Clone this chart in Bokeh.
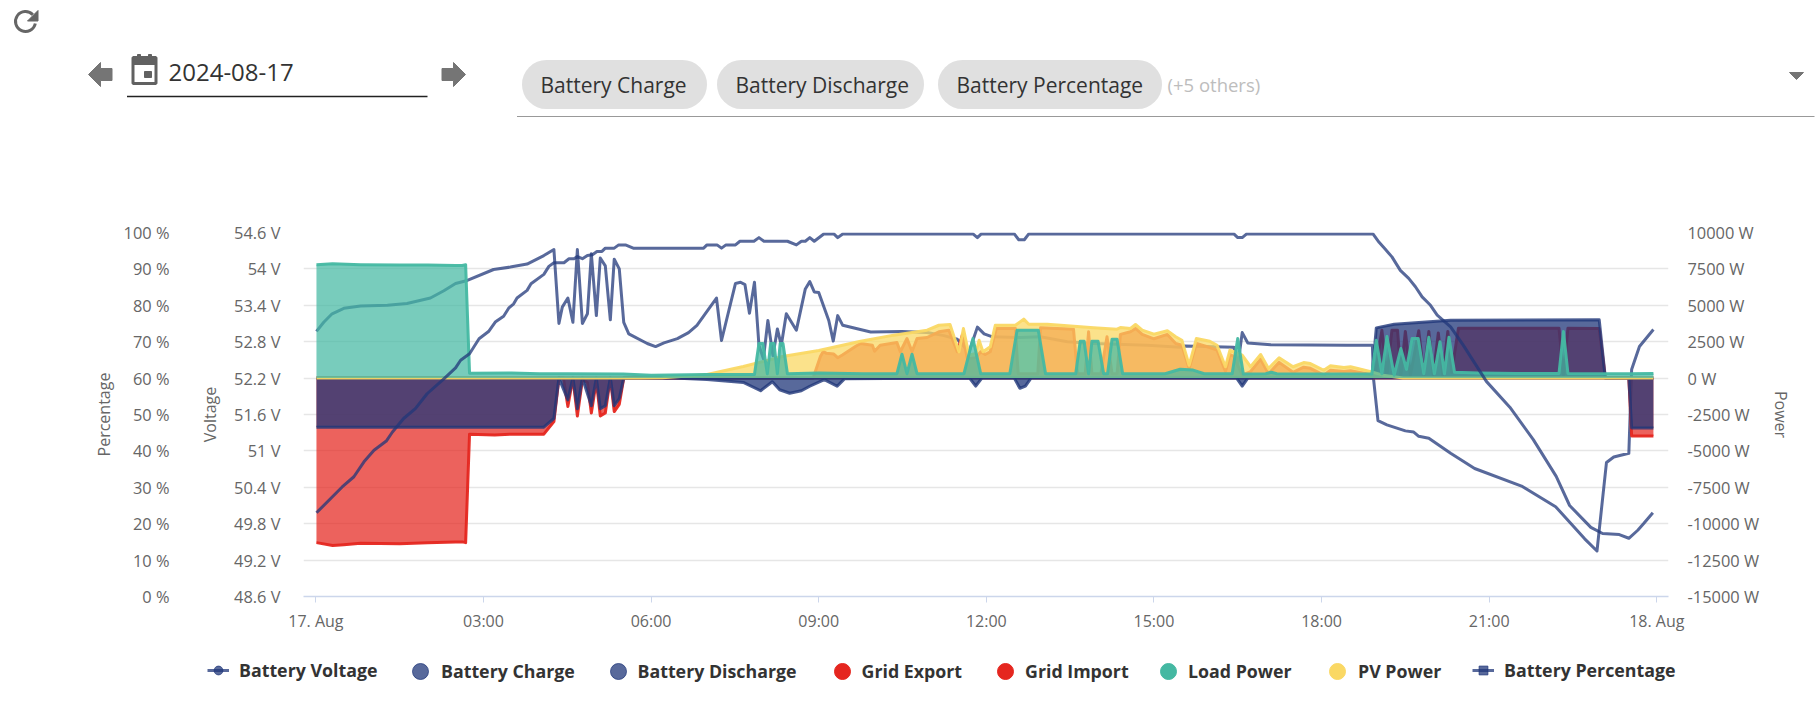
from bokeh.plotting import figure
from bokeh.models import (Range1d, LinearAxis, FixedTicker, CustomJSTickFormatter,
                          Legend, LegendItem)
from bokeh.core.properties import value
from bokeh.embed import file_html
from bokeh.resources import INLINE

FONT = "Open Sans"
date_label = "2024-08-17"
chips = ["Battery Charge", "Battery Discharge", "Battery Percentage"]
others_label = "(+5 others)"

hour_ticks = [0, 3, 6, 9, 12, 15, 18, 21, 24]
hour_labels = ["17. Aug", "03:00", "06:00", "09:00", "12:00", "15:00", "18:00", "21:00", "18. Aug"]
pct_ticks = [0, 10, 20, 30, 40, 50, 60, 70, 80, 90, 100]
volt_ticks = [48.6, 49.2, 49.8, 50.4, 51, 51.6, 52.2, 52.8, 53.4, 54, 54.6]
power_ticks = [-15000, -12500, -10000, -7500, -5000, -2500, 0, 2500, 5000, 7500, 10000]

volt_h = [0.01,0.14,0.29,0.5,0.8,1.28,1.63,2.05,2.29,2.5,2.71,3.18,3.48,3.78,4.08,4.26,4.35,4.41,4.51,4.6,4.68,
          4.77,4.86,4.93,5.02,5.09,5.18,5.27,5.34,5.43,5.51,5.6,5.93,6.08,6.23,6.47,6.67,6.82,7.17,7.26,7.51,7.6,
          7.68,7.76,7.85,7.93,8.01,8.09,8.18,8.26,8.33,8.42,8.6,8.76,8.84,8.92,9.0,9.18,9.26,9.34,9.43,9.93,10.49,
          10.94,11.24,11.48,11.69,11.84,11.96,12.11,12.61,12.97,13.45,13.92,14.88,15.47,15.56,16.43,16.5,16.58,
          16.68,17.09,18.46,18.91,18.93,19.01,19.17,19.5,19.65,19.74,19.92,20.31,20.74,21.58,22.19,22.71,22.93,
          23.1,23.23,23.5,23.55,23.69,23.94]
volt_v = [52.97,53.12,53.26,53.35,53.39,53.4,53.43,53.52,53.64,53.76,53.81,53.99,54.03,54.08,54.22,54.32,53.1,53.37,
          53.52,53.12,54.32,53.1,53.26,54.25,53.23,54.18,54.05,53.16,54.16,54.0,53.12,52.93,52.77,52.72,52.78,52.85,
          52.95,53.07,53.52,52.82,53.76,53.78,53.74,53.27,53.78,52.74,52.52,53.15,52.57,53.01,52.74,53.26,52.99,53.67,
          53.79,53.62,53.61,53.15,52.81,53.23,53.07,52.96,52.97,52.95,52.9,52.84,52.63,53.04,52.93,52.88,52.87,52.88,
          52.8,52.77,52.74,52.71,52.73,52.71,52.4,52.95,52.78,52.75,52.74,52.74,52.19,51.5,51.43,51.33,51.31,51.24,
          51.21,50.96,50.71,50.42,50.08,49.55,49.35,50.81,50.9,50.96,52.34,52.72,53.0]

pct_h = [0.01,0.47,0.68,0.86,1.04,1.26,1.37,1.57,1.78,1.99,2.29,2.5,2.59,2.75,2.92,3.09,3.21,3.36,3.45,3.54,3.6,3.78,
         3.85,4.08,4.17,4.26,4.44,4.53,4.62,4.68,4.77,4.86,4.95,5.03,5.12,5.18,5.34,5.42,5.54,5.68,6.94,7.0,7.18,7.26,
         7.34,7.51,7.59,7.84,7.93,8.02,8.44,8.6,8.69,8.76,8.84,8.92,9.09,9.27,9.34,9.43,11.76,11.84,11.91,12.5,12.58,
         12.68,12.76,16.43,16.5,16.58,16.66,18.92,19.03,19.13,19.26,19.41,19.56,19.68,19.8,19.95,20.07,20.31,20.53,
         20.95,21.37,21.79,22.2,22.44,22.82,23.03,23.33,23.5,23.66,23.77,23.93]
pct_v = [23,30.1,32.9,37,40.2,42.7,45.2,48.9,51.6,55.7,59.8,62.8,64.9,66.7,70.8,72.8,75.4,77,79.2,80.4,82,84.1,85.9,
         88.5,90.7,91.7,91.7,92.8,92.8,93.4,92.8,93.7,93.9,94.8,94.8,95.7,95.7,96.6,96.6,95.7,95.7,96.6,96.6,95.7,96.6,
         96.6,97.6,97.6,98.6,97.6,97.6,96.6,97.6,97.6,98.6,97.6,99.6,99.6,98.6,99.6,99.6,98.6,99.6,99.6,98,98,99.6,99.6,
         98.6,98.6,99.6,99.6,97.3,95.6,93.3,89.6,87.4,85.1,82.3,80,77.3,74.1,69.2,59.1,52,43.1,33,25,19,17.3,17,16,18.2,
         20.1,23]

charge_h = [0.01,4.08,4.26,4.35,4.51,4.6,4.68,4.77,4.93,5.02,5.09,5.18,5.27,5.34,5.43,5.51,6.4,7.0,7.65,7.96,8.17,8.3,
            8.48,8.69,8.84,9.1,9.33,9.46,11.7,11.81,11.92,12.5,12.6,12.7,12.8,16.48,16.58,16.68,23.5,23.55,23.94]
charge_w = [-3370,-3370,-2775,0,-1500,0,-2100,0,-1900,0,-2100,-1900,0,-1900,-1400,0,0,-100,-300,-870,-250,-800,-1040,
            -870,-560,-100,-560,-50,0,-550,0,0,-700,-550,0,0,-550,0,0,-3430,-3430]

discharge_h = [0.01,18.9,18.98,19.3,20.31,22.97,23.08,23.94]
discharge_w = [0,0,3450,3700,3980,4000,0,0]

export_h = [0.01,8.9,9.03,9.08,9.14,9.27,9.34,9.43,9.67,9.75,9.96,10.0,10.1,10.4,10.46,10.58,10.67,10.76,10.94,11.15,
            11.33,11.48,11.57,11.66,11.81,11.9,11.98,12.07,12.18,12.52,12.57,12.92,12.97,13.56,13.63,13.77,13.83,13.89,
            14.05,14.16,14.25,14.34,14.4,14.58,14.67,14.79,15.0,15.24,15.39,15.5,15.63,15.76,16.0,16.13,16.28,16.36,
            16.43,16.58,16.73,16.91,17.05,17.24,17.49,17.68,17.8,18.04,18.16,18.4,18.52,18.9,18.95,19.08,19.17,19.26,
            19.36,19.42,19.5,19.59,19.74,19.83,19.92,20.0,20.09,20.17,20.26,20.33,20.45,22.25,22.33,22.41,22.97,23.08,23.94]
export_w = [0,0,1480,1830,1700,1650,1400,1600,2200,2380,2260,1850,2260,2450,1810,2720,1830,2720,2790,3180,3290,1810,
            2950,1350,1400,1810,1620,1810,3410,3410,300,300,3450,3360,300,300,3180,300,300,2840,300,300,3000,3180,3410,
            3000,2700,3000,2380,2260,660,2380,2100,1920,450,1620,1500,200,450,1300,300,1080,400,750,670,200,540,450,500,
            230,100,3290,200,3290,3290,200,3200,200,3250,200,3200,200,3100,200,3200,400,3430,3430,200,3430,3400,0,0]

import_h = [0.01,0.3,0.5,0.8,1.5,2.0,2.5,2.62,2.68,2.75,3.2,3.5,4.08,4.26,4.35,4.43,4.51,4.6,4.68,4.77,4.86,4.93,5.02,
            5.09,5.18,5.27,5.34,5.43,5.51,23.5,23.55,23.94]
import_w = [-11300,-11500,-11450,-11350,-11380,-11300,-11250,-11250,-11300,-3850,-3900,-3850,-3850,-2990,0,0,-1950,0,
            -2600,-100,-300,-2400,-200,-2600,-2400,0,-2300,-1800,0,0,-3980,-3980]

load_h = [0.01,0.3,0.8,1.5,2.0,2.5,2.62,2.68,2.75,3.5,4.0,4.5,5.5,6.0,7.0,7.85,7.93,8.0,8.08,8.14,8.2,8.26,8.31,8.36,
          8.44,9.0,9.8,10.4,10.49,10.58,10.67,10.76,11.6,11.76,11.9,12.42,12.55,12.93,13.06,13.6,13.68,13.75,13.83,13.89,
          14.0,14.1,14.17,14.25,14.34,14.44,15.2,15.47,15.7,15.9,16.4,16.5,16.6,17.0,17.1,17.2,18.9,18.98,19.08,19.17,
          19.3,19.42,19.52,19.62,19.73,19.83,19.92,20.02,20.12,20.2,20.28,20.38,20.8,21.5,22.25,22.33,22.41,23.5,23.94]
load_w = [7780,7850,7790,7760,7760,7740,7730,7790,340,350,300,300,280,200,250,250,2380,2380,300,2380,2380,300,2380,2380,
          300,350,300,300,1640,300,1640,300,300,2720,300,300,3290,3290,300,300,2530,2530,300,2530,2530,300,300,2670,2670,
          300,300,610,550,300,300,2720,280,300,400,300,280,2600,300,2850,200,2030,600,2720,2720,300,2800,300,2500,300,
          2800,400,350,320,320,3200,320,300,320]

pv_h = [0.01,5.8,6.2,6.6,7.0,7.65,8.35,9.0,9.75,10.34,10.94,11.15,11.35,11.51,11.59,11.69,11.81,11.87,11.94,12.07,12.16,
        12.52,12.67,12.76,13.09,13.45,13.92,14.34,14.4,14.58,14.67,14.79,15.0,15.24,15.39,15.5,15.63,15.76,16.0,16.13,
        16.28,16.36,16.43,16.58,16.73,16.91,17.05,17.24,17.49,17.68,17.8,18.04,18.16,18.4,18.52,18.9,19.1,19.46,23.94]
pv_w = [0,0,30,120,250,800,1480,1900,2530,2950,3290,3630,3680,1810,3410,1570,1690,2600,1810,2150,3630,3630,4050,3700,
        3700,3590,3450,3360,3475,3410,3680,3290,3020,3250,2840,2600,885,2720,2530,2260,780,1920,1810,1570,780,1620,660,
        1400,780,1070,1000,540,845,730,780,430,200,0,0]

NAVY, RED, TEAL, YELLOW = "#203779", "#e5261f", "#44b8a2", "#fad864"
GREY = "#666666"

# ---------- controls above the chart, drawn in page pixels
h = figure(width=1820, height=128, x_range=Range1d(0, 1820), y_range=Range1d(128, 0),
           x_axis_location=None, y_axis_location=None, toolbar_location=None,
           output_backend="svg", min_border=0, outline_line_color=None)
h.grid.visible = False
h.arc(x=[25], y=[21], radius=[10], start_angle=0.75, end_angle=-0.2, direction="anticlock",
      line_color="#666666", line_width=3)
h.patch([37.5, 37.5, 27], [10, 20.5, 20.5], color="#666666")
h.patch([88, 100, 100, 111.5, 111.5, 100, 100], [74, 62, 68, 68, 80, 80, 86], color="#757575")
h.patch([465, 453, 453, 441.5, 441.5, 453, 453], [74, 62, 68, 68, 80, 80, 86], color="#757575")
h.quad(left=[132.5], right=[155.5], top=[57], bottom=[83], fill_color="white", line_color="#616161", line_width=3)
h.quad(left=[132.5], right=[155.5], top=[57], bottom=[64], color="#616161")
h.quad(left=[137, 148], right=[140, 151], top=[54, 54], bottom=[57, 57], color="#616161")
h.quad(left=[144], right=[151], top=[71], bottom=[77], color="#616161")
h.text(x=[168], y=[72], text=[date_label], text_font=value(FONT), text_font_size="24px",
       text_color="#333333", text_baseline="middle")
h.segment(x0=[126.5], y0=[96], x1=[427], y1=[96], line_color="#222222", line_width=1.3)
h.segment(x0=[546, 741, 962], y0=[84] * 3, x1=[682, 899, 1137], y1=[84] * 3, line_color="#e0e0e0",
          line_width=49, line_cap="round")
h.text(x=[540, 735, 956], y=[84] * 3, text=chips, text_font=value(FONT), text_font_size="21px",
       text_color="#333333", text_baseline="middle")
h.text(x=[1167], y=[84], text=[others_label], text_font=value(FONT), text_font_size="18.5px",
       text_color="#bdbdbd", text_baseline="middle")
h.patch([1789, 1803, 1796], [72, 72, 79], color="#757575")
h.segment(x0=[516.5], y0=[116], x1=[1814], y1=[116], line_color="#999999", line_width=1.2)

# ---------- chart
p = figure(width=1820, height=512, x_range=Range1d(-0.222, 24.21), y_range=Range1d(48.6, 54.6),
           toolbar_location=None, output_backend="svg", min_border_left=303, min_border_right=152,
           min_border_top=104, min_border_bottom=44, outline_line_color=None)
p.extra_y_ranges = {"pct": Range1d(0, 100), "power": Range1d(-15000, 10000)}
p.xgrid.visible = False
p.ygrid.grid_line_color = "#e6e6e6"
p.ygrid.grid_line_width = 1.5


def style(ax, unit, ticks):
    ax.ticker = FixedTicker(ticks=ticks)
    ax.formatter = CustomJSTickFormatter(code=f"return tick + ' {unit}'")
    ax.axis_line_color = None
    ax.major_tick_line_color = None
    ax.minor_tick_line_color = None
    ax.major_label_text_font = FONT
    ax.major_label_text_font_size = "16.4px"
    ax.major_label_text_color = GREY
    ax.axis_label_text_font = FONT
    ax.axis_label_text_font_size = "16px"
    ax.axis_label_text_font_style = "normal"
    ax.axis_label_text_color = GREY


va = p.yaxis[0]
va.axis_label = "Voltage"
style(va, "V", volt_ticks)
va.major_label_standoff = 17
va.axis_label_standoff = 10

pa = LinearAxis(y_range_name="pct", axis_label="Percentage")
style(pa, "%", pct_ticks)
pa.major_label_standoff = 21
pa.axis_label_standoff = 6
p.add_layout(pa, "left")

wa = LinearAxis(y_range_name="power", axis_label="Power")
style(wa, "W", power_ticks)
wa.major_label_standoff = 13
wa.axis_label_standoff = 8
p.add_layout(wa, "right")

xa = p.xaxis[0]
xa.ticker = FixedTicker(ticks=hour_ticks)
xa.major_label_overrides = dict(zip(hour_ticks, hour_labels))
xa.axis_line_color = "#ccd6eb"
xa.axis_line_width = 1.5
xa.major_tick_line_color = "#ccd6eb"
xa.major_tick_in = 0
xa.major_tick_out = 6
xa.minor_tick_line_color = None
xa.major_label_text_font = FONT
xa.major_label_text_font_size = "16px"
xa.major_label_text_color = GREY
xa.major_label_standoff = 7


def area(hours, watts, color, alpha=0.75, stroke_alpha=0.95):
    p.varea(x=hours, y1=watts, y2=[0] * len(hours), fill_color=color, fill_alpha=alpha, y_range_name="power")
    return p.line(hours, watts, line_color=color, line_width=3, line_alpha=stroke_alpha,
                  line_join="round", y_range_name="power")


line_kw = dict(line_color=NAVY, line_alpha=0.75, line_width=3, line_join="round")
p.line(volt_h, volt_v, **line_kw)
area(export_h, export_w, RED, alpha=0.72)
area(import_h, import_w, RED, alpha=0.72)
area(charge_h, charge_w, NAVY, stroke_alpha=0.8)
area(discharge_h, discharge_w, NAVY, stroke_alpha=0.8)
area(pv_h, pv_w, YELLOW)
area(load_h, load_w, TEAL, alpha=0.72)
p.line(pct_h, pct_v, y_range_name="pct", **line_kw)

# ---------- legend strip below the chart, in page pixels
f = figure(width=1820, height=62, x_range=Range1d(0, 1820), y_range=Range1d(702, 640),
           x_axis_location=None, y_axis_location=None, toolbar_location=None,
           output_backend="svg", min_border=0, outline_line_color=None)
f.grid.visible = False


def swatch(color, alpha=1.0, marker="circle"):
    # zero-size marker outside the visible range: it only supplies the legend symbol
    return f.scatter([-50], [650], size=0, marker=marker, fill_color=color, fill_alpha=alpha,
                     line_color=color, line_alpha=alpha)


def stroke():
    return f.line([-50, -40], [650, 650], line_color=NAVY, line_alpha=0.75, line_width=3)


legend_rows = [
    ("Battery Voltage", [stroke(), swatch(NAVY, 0.75)], 207, 22, 239),
    ("Battery Charge", [swatch(NAVY, 0.75)], 400, 40, 441),
    ("Battery Discharge", [swatch(NAVY, 0.75)], 597.5, 40, 638.4),
    ("Grid Export", [swatch(RED)], 821.5, 40, 862.4),
    ("Grid Import", [swatch(RED)], 985, 40, 1025),
    ("Load Power", [swatch(TEAL)], 1148, 40, 1188.6),
    ("PV Power", [swatch(YELLOW)], 1317, 40, 1358),
    ("Battery Percentage", [stroke(), swatch(NAVY, 0.75, "square")], 1472, 22, 1504),
]
for label, rends, left, size, text_x in legend_rows:
    lg = Legend(items=[LegendItem(label=label, renderers=rends)],
                location=(left, 702 - (671 + size / 2)), orientation="horizontal",
                glyph_width=size, glyph_height=size, label_standoff=max(0, int(text_x - left - size)),
                padding=0, margin=0, background_fill_alpha=0, border_line_color=None,
                label_text_font=FONT, label_text_font_size="17.8px", label_text_font_style="bold",
                label_text_color="#333333", label_height=size)
    f.add_layout(lg, "center")

open("out.html", "w").write(file_html([h, p, f], INLINE))
